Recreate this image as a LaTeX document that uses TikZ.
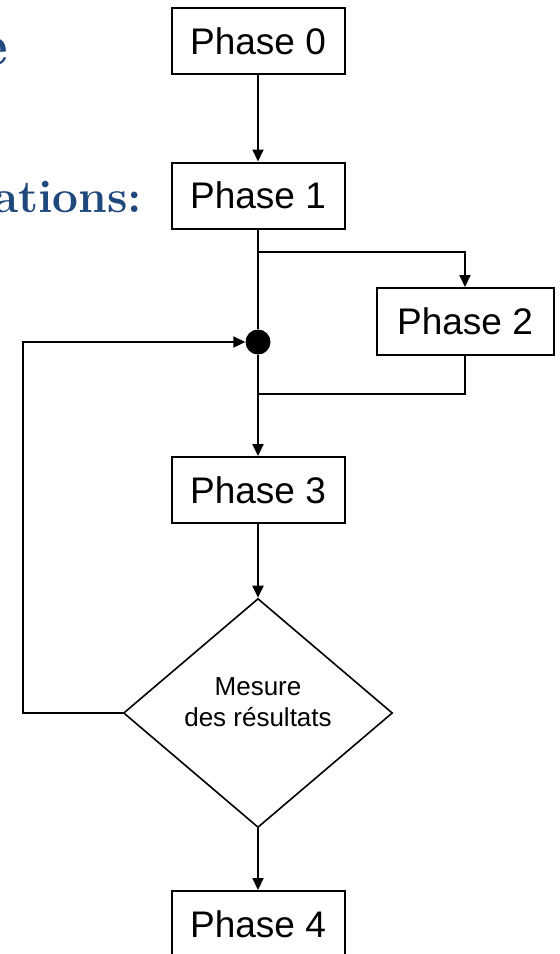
\documentclass[tikz,border=0pt]{standalone}
\usepackage{fontspec}
\setsansfont{Liberation Sans}
\usetikzlibrary{arrows.meta,shapes.geometric}
\definecolor{titleblue}{RGB}{31,73,125}
\begin{document}
\begin{tikzpicture}[x=1pt,y=-1pt,
  phase/.style={draw, line width=2pt, minimum width=173pt, minimum height=66pt,
    inner sep=0pt, font=\sffamily\fontsize{37}{40}\selectfont},
  flow/.style={line width=2pt, -{Triangle[length=12pt,width=11pt]}},
  link/.style={line width=2pt},
  heading/.style={text=titleblue, font=\bfseries\fontsize{46}{50}\selectfont, inner sep=0pt}]
\useasboundingbox (0,0) rectangle (560,954);
\clip (0,0) rectangle (560,954);

% title fragments on the left
\node[heading, anchor=base east] (h1) at (8,65) {\fontsize{60}{64}\selectfont e};
\node[heading, anchor=base west] (h2) at (-7,212) {ations:};

% process steps
\node[phase] (p0) at (258,41) {Phase 0};
\node[phase] (p1) at (258,195.5) {Phase 1};
\node[phase, minimum width=177pt, minimum height=67pt] (p2) at (465,321.5) {Phase 2};
\node[phase] (p3) at (258,490) {Phase 3};
\node[phase] (p4) at (258,924) {Phase 4};

% decision
\node[draw, diamond, line width=1.6pt, minimum width=269pt, minimum height=229pt,
  inner sep=0pt] (m) at (258,713) {};
\node[font=\sffamily\fontsize{26}{31}\selectfont, align=center] (mt) at (258,702)
  {Mesure\\des résultats};

% junction
\node[circle, fill, minimum size=25pt, inner sep=0pt] (j) at (258,342) {};
\coordinate (split) at (258,252);
\coordinate (merge) at (258,394);
\coordinate (loop) at (23,342);

% connectors
\draw[flow] (p0) -- (p1);
\draw[link] (p1) -- (j);
\draw[flow] (split) -| (p2.north);
\draw[link] (p2.south) |- (merge);
\draw[flow] (j) -- (p3);
\draw[flow] (p3) -- (m.north);
\draw[flow] (m.south) -- (p4);
\draw[flow] (m.west) -| (loop) -- (j);
\end{tikzpicture}
\end{document}
